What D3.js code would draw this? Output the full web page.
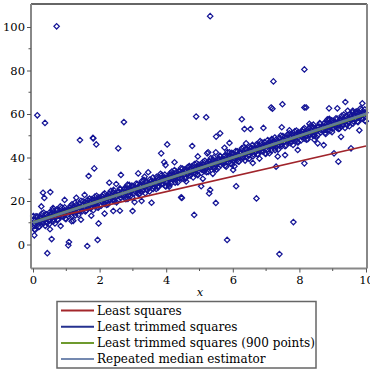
<!DOCTYPE html>
<html>
<head>
<meta charset="utf-8">
<script src="https://cdnjs.cloudflare.com/ajax/libs/d3/7.8.5/d3.min.js"></script>
<style>
  body { margin: 0; background: #fff; }
  svg { display: block; }
  svg text { font-family: "DejaVu Serif", serif; }
</style>
</head>
<body>
<div id="chart"></div>
<script>
// dense band of points (x, y)
const bandX = [
  0.02,0.05,0.09,0.12,0.15,0.19,0.22,0.25,0.29,0.32,0.35,0.39,0.42,0.45,0.49,0.52,0.55,0.59,0.62,0.65,0.69,0.72,0.75,0.79,0.82,0.85,0.89,0.92,0.95,0.99,
  0.04,0.07,0.11,0.14,0.17,0.21,0.24,0.27,0.31,0.34,0.37,0.41,0.44,0.47,0.51,0.54,0.57,0.61,0.64,0.67,0.71,0.74,0.77,0.81,0.84,0.87,0.91,0.94,0.97,0.98,
  1.03,1.06,1.10,1.13,1.16,1.20,1.23,1.26,1.30,1.33,1.36,1.40,1.43,1.46,1.50,1.53,1.56,1.60,1.63,1.66,1.70,1.73,1.76,1.80,1.83,1.86,1.90,1.93,1.96,1.99,
  1.04,1.07,1.11,1.14,1.17,1.21,1.24,1.27,1.31,1.34,1.37,1.41,1.44,1.47,1.51,1.54,1.57,1.61,1.64,1.67,1.71,1.74,1.77,1.81,1.84,1.87,1.91,1.94,1.97,1.98,
  2.02,2.05,2.09,2.12,2.15,2.19,2.22,2.25,2.29,2.32,2.35,2.39,2.42,2.45,2.49,2.52,2.55,2.59,2.62,2.65,2.69,2.72,2.75,2.79,2.82,2.85,2.89,2.92,2.95,2.99,
  2.04,2.07,2.11,2.14,2.17,2.21,2.24,2.27,2.31,2.34,2.37,2.41,2.44,2.47,2.51,2.54,2.57,2.61,2.64,2.67,2.71,2.74,2.77,2.81,2.84,2.87,2.91,2.94,2.97,2.98,
  3.03,3.06,3.10,3.13,3.16,3.20,3.23,3.26,3.30,3.33,3.36,3.40,3.43,3.46,3.50,3.53,3.56,3.60,3.63,3.66,3.70,3.73,3.76,3.80,3.83,3.86,3.90,3.93,3.96,3.99,
  3.04,3.07,3.11,3.14,3.17,3.21,3.24,3.27,3.31,3.34,3.37,3.41,3.44,3.47,3.51,3.54,3.57,3.61,3.64,3.67,3.71,3.74,3.77,3.81,3.84,3.87,3.91,3.94,3.97,3.98,
  4.02,4.05,4.09,4.12,4.15,4.19,4.22,4.25,4.29,4.32,4.35,4.39,4.42,4.45,4.49,4.52,4.55,4.59,4.62,4.65,4.69,4.72,4.75,4.79,4.82,4.85,4.89,4.92,4.95,4.99,
  4.04,4.07,4.11,4.14,4.17,4.21,4.24,4.27,4.31,4.34,4.37,4.41,4.44,4.47,4.51,4.54,4.57,4.61,4.64,4.67,4.71,4.74,4.77,4.81,4.84,4.87,4.91,4.94,4.97,4.98,
  5.03,5.06,5.10,5.13,5.16,5.20,5.23,5.26,5.30,5.33,5.36,5.40,5.43,5.46,5.50,5.53,5.56,5.60,5.63,5.66,5.70,5.73,5.76,5.80,5.83,5.86,5.90,5.93,5.96,5.99,
  5.04,5.07,5.11,5.14,5.17,5.21,5.24,5.27,5.31,5.34,5.37,5.41,5.44,5.47,5.51,5.54,5.57,5.61,5.64,5.67,5.71,5.74,5.77,5.81,5.84,5.87,5.91,5.94,5.97,5.98,
  6.02,6.05,6.09,6.12,6.15,6.19,6.22,6.25,6.29,6.32,6.35,6.39,6.42,6.45,6.49,6.52,6.55,6.59,6.62,6.65,6.69,6.72,6.75,6.79,6.82,6.85,6.89,6.92,6.95,6.99,
  6.04,6.07,6.11,6.14,6.17,6.21,6.24,6.27,6.31,6.34,6.37,6.41,6.44,6.47,6.51,6.54,6.57,6.61,6.64,6.67,6.71,6.74,6.77,6.81,6.84,6.87,6.91,6.94,6.97,6.98,
  7.03,7.06,7.10,7.13,7.16,7.20,7.23,7.26,7.30,7.33,7.36,7.40,7.43,7.46,7.50,7.53,7.56,7.60,7.63,7.66,7.70,7.73,7.76,7.80,7.83,7.86,7.90,7.93,7.96,7.99,
  7.04,7.07,7.11,7.14,7.17,7.21,7.24,7.27,7.31,7.34,7.37,7.41,7.44,7.47,7.51,7.54,7.57,7.61,7.64,7.67,7.71,7.74,7.77,7.81,7.84,7.87,7.91,7.94,7.97,7.98,
  8.02,8.05,8.09,8.12,8.15,8.19,8.22,8.25,8.29,8.32,8.35,8.39,8.42,8.45,8.49,8.52,8.55,8.59,8.62,8.65,8.69,8.72,8.75,8.79,8.82,8.85,8.89,8.92,8.95,8.99,
  8.04,8.07,8.11,8.14,8.17,8.21,8.24,8.27,8.31,8.34,8.37,8.41,8.44,8.47,8.51,8.54,8.57,8.61,8.64,8.67,8.71,8.74,8.77,8.81,8.84,8.87,8.91,8.94,8.97,8.98,
  9.03,9.06,9.10,9.13,9.16,9.20,9.23,9.26,9.30,9.33,9.36,9.40,9.43,9.46,9.50,9.53,9.56,9.60,9.63,9.66,9.70,9.73,9.76,9.80,9.83,9.86,9.90,9.93,9.96,9.99,
  9.04,9.07,9.11,9.14,9.17,9.21,9.24,9.27,9.31,9.34,9.37,9.41,9.44,9.47,9.51,9.54,9.57,9.61,9.64,9.67,9.71,9.74,9.77,9.81,9.84,9.87,9.91,9.94,9.97,9.98
];
const bandY = [
  11.3,9.4,13.0,8.7,11.1,8.2,12.8,11.9,10.3,14.7,11.4,14.0,9.9,13.2,9.4,14.0,12.7,15.8,11.5,13.8,12.6,15.5,11.3,14.2,17.5,12.9,15.3,14.3,17.1,11.7,
  8.6,11.0,10.3,12.8,8.1,12.1,10.4,14.2,9.7,12.0,8.6,13.8,12.2,11.0,14.9,12.1,14.4,10.6,13.9,12.3,16.1,11.6,15.1,13.4,14.1,17.0,12.7,15.6,11.9,15.6,
  13.6,16.0,15.3,17.8,13.1,17.1,15.4,19.2,14.7,17.0,13.6,18.8,17.2,16.0,19.9,17.1,19.4,15.6,18.9,17.3,21.1,16.6,20.1,18.4,19.1,22.0,17.7,20.6,16.9,20.6,
  15.6,12.9,17.0,15.2,18.5,14.8,16.3,13.4,18.4,15.7,17.5,15.5,20.1,15.2,18.1,17.3,15.2,19.2,20.5,17.6,19.4,17.4,20.9,15.8,20.5,19.1,22.4,17.2,20.1,21.7,
  20.6,17.9,22.0,20.2,23.5,19.8,21.3,18.4,23.4,20.7,22.5,20.5,25.1,20.2,23.1,22.3,20.2,24.2,25.5,22.6,24.4,22.4,25.9,20.8,25.5,24.1,27.4,22.2,25.1,26.7,
  21.3,19.4,23.0,18.7,21.1,18.2,22.8,21.9,20.3,24.7,21.4,24.0,19.9,23.2,19.4,24.0,22.7,25.8,21.5,23.8,22.6,25.5,21.3,24.2,27.5,22.9,25.3,24.3,27.1,21.7,
  26.3,24.4,28.0,23.7,26.1,23.2,27.8,26.9,25.3,29.7,26.4,29.0,24.9,28.2,24.4,29.0,27.7,30.8,26.5,28.8,27.6,30.5,26.3,29.2,32.5,27.9,30.3,29.3,32.1,26.7,
  23.6,26.0,25.3,27.8,23.1,27.1,25.4,29.2,24.7,27.0,23.6,28.8,27.2,26.0,29.9,27.1,29.4,25.6,28.9,27.3,31.1,26.6,30.1,28.4,29.1,32.0,27.7,30.6,26.9,30.6,
  28.6,31.0,30.3,32.8,28.1,32.1,30.4,34.2,29.7,32.0,28.6,33.8,32.2,31.0,34.9,32.1,34.4,30.6,33.9,32.3,36.1,31.6,35.1,33.4,34.1,37.0,32.7,35.6,31.9,35.6,
  30.6,27.9,32.0,30.2,33.5,29.8,31.3,28.4,33.4,30.7,32.5,30.5,35.1,30.2,33.1,32.3,30.2,34.2,35.5,32.6,34.4,32.4,35.9,30.8,35.5,34.1,37.4,32.2,35.1,36.7,
  35.6,32.9,37.0,35.2,38.5,34.8,36.3,33.4,38.4,35.7,37.5,35.5,40.1,35.2,38.1,37.3,35.2,39.2,40.5,37.6,39.4,37.4,40.9,35.8,40.5,39.1,42.4,37.2,40.1,41.7,
  36.3,34.4,38.0,33.7,36.1,33.2,37.8,36.9,35.3,39.7,36.4,39.0,34.9,38.2,34.4,39.0,37.7,40.8,36.5,38.8,37.6,40.5,36.3,39.2,42.5,37.9,40.3,39.3,42.1,36.7,
  41.3,39.4,43.0,38.7,41.1,38.2,42.8,41.9,40.3,44.7,41.4,44.0,39.9,43.2,39.4,44.0,42.7,45.8,41.5,43.8,42.6,45.5,41.3,44.2,47.5,42.9,45.3,44.3,47.1,41.7,
  38.6,41.0,40.3,42.8,38.1,42.1,40.4,44.2,39.7,42.0,38.6,43.8,42.2,41.0,44.9,42.1,44.4,40.6,43.9,42.3,46.1,41.6,45.1,43.4,44.1,47.0,42.7,45.6,41.9,45.6,
  43.6,46.0,45.3,47.8,43.1,47.1,45.4,49.2,44.7,47.0,43.6,48.8,47.2,46.0,49.9,47.1,49.4,45.6,48.9,47.3,51.1,46.6,50.1,48.4,49.1,52.0,47.7,50.6,46.9,50.6,
  45.6,42.9,47.0,45.2,48.5,44.8,46.3,43.4,48.4,45.7,47.5,45.5,50.1,45.2,48.1,47.3,45.2,49.2,50.5,47.6,49.4,47.4,50.9,45.8,50.5,49.1,52.4,47.2,50.1,51.7,
  50.6,47.9,52.0,50.2,53.5,49.8,51.3,48.4,53.4,50.7,52.5,50.5,55.1,50.2,53.1,52.3,50.2,54.2,55.5,52.6,54.4,52.4,55.9,50.8,55.5,54.1,57.4,52.2,55.1,56.7,
  51.3,49.4,53.0,48.7,51.1,48.2,52.8,51.9,50.3,54.7,51.4,54.0,49.9,53.2,49.4,54.0,52.7,55.8,51.5,53.8,52.6,55.5,51.3,54.2,57.5,52.9,55.3,54.3,57.1,51.7,
  56.3,54.4,58.0,53.7,56.1,53.2,57.8,56.9,55.3,59.7,56.4,59.0,54.9,58.2,54.4,59.0,57.7,60.8,56.5,58.8,57.6,60.5,56.3,59.2,62.5,57.9,60.3,59.3,62.1,56.7,
  53.6,56.0,55.3,57.8,53.1,57.1,55.4,59.2,54.7,57.0,53.6,58.8,57.2,56.0,59.9,57.1,59.4,55.6,58.9,57.3,61.1,56.6,60.1,58.4,59.1,62.0,57.7,60.6,56.9,60.6
];

// points away from the band
const outliers = [
  [0.71,100.3],[0.13,59.4],[0.36,55.9],[2.73,56.3],[1.41,48.0],[1.80,49.0],[5.32,105.0],[8.15,80.5],[7.22,75.0],
  [4.90,58.8],[5.20,58.5],[7.49,64.5],[7.15,63.0],[7.19,62.4],[6.27,57.6],[6.35,53.1],[6.53,53.1],[6.92,53.6],
  [5.50,49.6],[5.62,51.1],[9.38,65.5],[9.89,64.9],[8.15,63.0],[8.20,63.0],[8.89,62.6],[9.14,62.6],[9.45,61.5],
  [9.60,61.5],[7.47,53.9],[0.43,-4.0],[0.04,4.2],[0.05,7.0],[0.01,13.1],[0.30,23.8],[0.34,21.4],[0.52,24.1],
  [0.51,7.0],[0.56,2.5],[1.08,1.1],[1.06,-0.4],[1.63,-0.7],[1.94,2.1],[1.97,9.7],[1.67,31.5],[1.84,35.0],
  [1.81,48.8],[1.90,46.0],[2.56,44.2],[4.03,46.0],[3.85,41.9],[2.29,28.4],[2.64,32.0],[3.16,32.7],[3.46,33.2],
  [2.99,15.4],[2.61,15.5],[2.41,15.4],[1.44,11.4],[1.16,10.7],[0.88,14.3],[3.94,37.8],[3.98,36.5],[4.47,21.4],
  [4.09,26.6],[3.56,19.2],[3.26,20.0],[4.84,13.6],[5.83,2.1],[7.40,-4.4],[7.82,10.3],[6.71,21.2],[5.49,19.1],
  [6.10,26.8],[5.29,23.5],[5.32,25.1],[5.05,26.8],[7.30,35.8],[8.15,37.3],[9.04,41.9],[9.17,38.1],[9.55,44.2],
  [8.73,45.7],[4.78,45.3],[5.23,41.9],[6.01,34.3],[7.57,41.1],[5.26,42.4],[5.49,42.4],[4.45,21.7],[4.08,27.4],
  [0.83,8.5],[0.66,9.7],[0.51,11.3],[1.21,10.9],[0.06,6.7],
  [0.25,17.5],[0.60,16.8],[1.30,21.5],[1.55,22.8],[2.15,14.2],[2.50,27.8],[2.85,21.0],[3.35,31.2],[3.70,25.5],
  [4.25,37.8],[4.60,29.0],[4.95,40.5],[5.40,32.5],[5.75,44.5],[6.05,36.0],[6.40,46.5],[6.80,39.5],[7.05,48.0],
  [7.35,40.5],[7.70,52.5],[7.95,43.5],[8.30,55.5],[8.55,46.5],[8.90,57.8],[9.25,49.5],[9.70,61.0],[9.80,52.5],
  [8.45,48.2],[7.10,42.0],[6.60,37.5],[5.90,46.7],[5.10,30.2],[3.05,19.5],[1.75,13.2],[0.95,20.5]
];

// fitted lines, end points at x = 0 and x = 10
const lineEnds = [0, 10];
const lsY = [10.3, 45.3];
const ltsY = [10.0, 60.0];
const lts900Y = [10.1, 59.9];
const rmY = [10.0, 60.1];

const legendLabels = ["Least squares", "Least trimmed squares", "Least trimmed squares (900 points)", "Repeated median estimator"];
const legendColors = ["#a3262b", "#25318f", "#6e9a2e", "#7489b0"];

const xTicks = [0, 2, 4, 6, 8, 10];
const xMinor = [1, 3, 5, 7, 9];
const yTicks = [0, 20, 40, 60, 80, 100];
const yMinor = [10, 30, 50, 70, 90];

const width = 370, height = 370;
const box = {left: 31, right: 367, top: 4, bottom: 268.5};
const serif = "'DejaVu Serif', serif";

let x = d3.scaleLinear().domain([0, 10]).range([33, 366]);
let y = d3.scaleLinear().domain([0, 100]).range([244.5, 27]);

let svg = d3.select("#chart")
  .append("svg")
  .attr("width", width)
  .attr("height", height)
  .attr("font-family", serif);

// points
let pts = bandX.map(function(d, i) { return [d, bandY[i]]; }).concat(outliers);
const diamond = "M0,-2.7L2.7,0L0,2.7L-2.7,0Z";

svg.append("g")
  .selectAll("path")
  .data(pts)
  .enter()
  .append("path")
  .attr("d", diamond)
  .attr("transform", function(d) { return `translate(${x(d[0])},${y(d[1])})`; })
  .attr("fill", "none")
  .attr("stroke", "#141496")
  .attr("stroke-width", 1.25);

// lines
let fits = [
  {ys: lsY, color: "#a0242b", w: 1.6},
  {ys: ltsY, color: "#25318f", w: 3},
  {ys: lts900Y, color: "#6e9a2e", w: 2.5},
  {ys: rmY, color: "#62789c", w: 2.2}
];
let line = d3.line()
  .x(function(d) { return x(d[0]); })
  .y(function(d) { return y(d[1]); });

fits.forEach(function(f) {
  svg.append("path")
    .datum(lineEnds.map(function(v, i) { return [v, f.ys[i]]; }))
    .attr("fill", "none")
    .attr("stroke", f.color)
    .attr("stroke-width", f.w)
    .attr("d", line);
});

// frame
svg.append("line")
  .attr("x1", box.left).attr("x2", box.right)
  .attr("y1", box.top).attr("y2", box.top)
  .attr("stroke", "#333").attr("stroke-width", 1.5);
svg.append("line")
  .attr("x1", box.right).attr("x2", box.right)
  .attr("y1", box.top).attr("y2", box.bottom)
  .attr("stroke", "#888").attr("stroke-width", 2);
svg.append("line")
  .attr("x1", box.left).attr("x2", box.left)
  .attr("y1", box.top).attr("y2", box.bottom)
  .attr("stroke", "#888").attr("stroke-width", 2);
svg.append("line")
  .attr("x1", box.left).attr("x2", box.right)
  .attr("y1", box.bottom).attr("y2", box.bottom)
  .attr("stroke", "#888").attr("stroke-width", 2);

// x axis
let xAxis = svg.append("g").attr("transform", `translate(0,${box.bottom})`);
xAxis.call(d3.axisBottom(x).tickValues(xTicks).tickSize(4).tickPadding(3).tickFormat(d3.format("d")));
xAxis.append("g").selectAll("line").data(xMinor).enter().append("line")
  .attr("x1", function(d) { return x(d); }).attr("x2", function(d) { return x(d); })
  .attr("y1", 0).attr("y2", 2.5).attr("stroke", "#555");

// y axis
let yAxis = svg.append("g").attr("transform", `translate(${box.left},0)`);
yAxis.call(d3.axisLeft(y).tickValues(yTicks).tickSize(4).tickPadding(2).tickFormat(d3.format("d")));
yAxis.append("g").selectAll("line").data(yMinor).enter().append("line")
  .attr("x1", -2.5).attr("x2", 0)
  .attr("y1", function(d) { return y(d); }).attr("y2", function(d) { return y(d); })
  .attr("stroke", "#555");

xAxis.attr("font-family", serif).attr("font-size", 11.5);
yAxis.attr("font-family", serif).attr("font-size", 11.5);
svg.selectAll(".domain").remove();
svg.selectAll(".tick line").attr("stroke", "#555");
svg.selectAll(".tick text").attr("fill", "#000");

svg.append("text")
  .attr("x", 200)
  .attr("y", 296)
  .attr("text-anchor", "middle")
  .attr("font-size", 11.5)
  .attr("font-style", "italic")
  .text("x");

// legend
let legend = svg.append("g");
legend.append("rect")
  .attr("x", 57).attr("y", 301.5)
  .attr("width", 259).attr("height", 66.5)
  .attr("fill", "#fff").attr("stroke", "#666").attr("stroke-width", 1.5);

legendLabels.forEach(function(lbl, i) {
  let ly = 310.5 + i * 16.2;
  legend.append("line")
    .attr("x1", 61).attr("x2", 94)
    .attr("y1", ly).attr("y2", ly)
    .attr("stroke", legendColors[i]).attr("stroke-width", 2);
  legend.append("text")
    .attr("x", 97)
    .attr("y", ly + 4)
    .attr("font-size", 12)
    .text(lbl);
});
</script>
</body>
</html>
